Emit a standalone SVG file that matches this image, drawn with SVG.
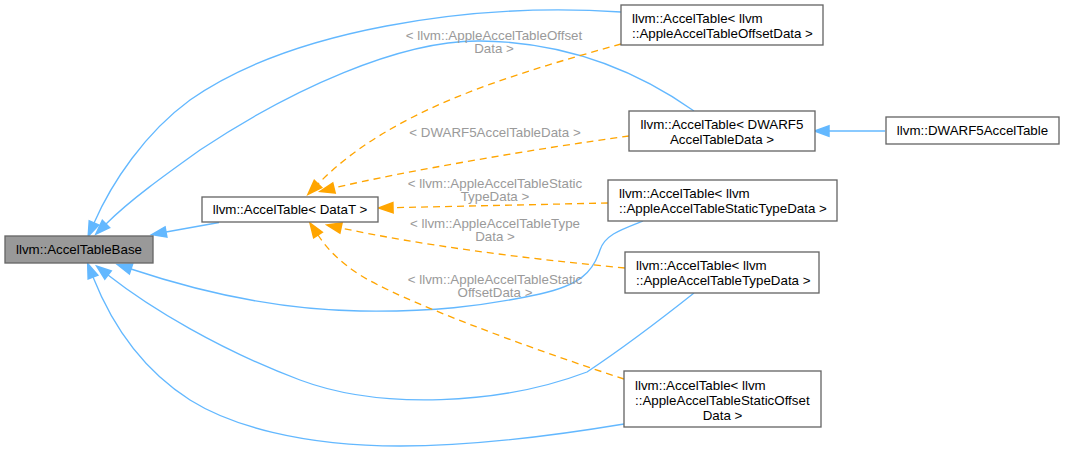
<svg xmlns="http://www.w3.org/2000/svg" width="1065" height="452" viewBox="0 0 1065 452">
<style>
text{font-family:"Liberation Sans",Arial,sans-serif;font-size:13.33px;fill:#000}
.c{text-anchor:middle}
.lbl{fill:#9a9a9a;text-anchor:middle}
.box{fill:#fff;stroke:#666;stroke-width:1.33}
.base{fill:#999;stroke:#666;stroke-width:1.33}
.bl{fill:none;stroke:#63b8ff;stroke-width:1.33}
.or{fill:none;stroke:#ffa500;stroke-width:1.33;stroke-dasharray:7,5}
</style>
<defs>
<marker id="ab" markerUnits="userSpaceOnUse" markerWidth="20" markerHeight="20" refX="0" refY="0" orient="auto" viewBox="-2 -8 18 16" overflow="visible">
<path d="M0,-4.7 L13,0 L0,4.7 z" fill="#63b8ff" stroke="#63b8ff" stroke-width="1.33" stroke-dasharray="none"/>
</marker>
<marker id="ao" markerUnits="userSpaceOnUse" markerWidth="20" markerHeight="20" refX="0" refY="0" orient="auto" viewBox="-2 -8 18 16" overflow="visible">
<path d="M0,-4.7 L13,0 L0,4.7 z" fill="#ffa500" stroke="#ffa500" stroke-width="1.33" stroke-dasharray="none"/>
</marker>
</defs>
<g id="connectors">
<path class="bl" marker-end="url(#ab)" d="M219,222.5 L166,232"/>
<path class="bl" marker-end="url(#ab)" d="M621,12 C470,2 290,30 190,100 C145,133 112,182 94,223"/>
<path class="bl" marker-end="url(#ab)" d="M694,111 C650,80 580,42 480,41 C400,40 290,90 200,150 C165,175 130,200 106,224"/>
<path class="bl" marker-end="url(#ab)" d="M643,221 C620,230 605,235 600,250 C593,272 580,285 540,294 C480,307 430,312 360,311 C280,310 200,292 131,269"/>
<path class="bl" marker-end="url(#ab)" d="M694,293 C660,320 620,350 587,372 C500,405 380,410 300,380 C220,350 150,308 108,275"/>
<path class="bl" marker-end="url(#ab)" d="M624,424 C540,438 470,446 400,446 C300,446 230,425 190,400 C140,368 110,320 93,277"/>
<path class="bl" marker-end="url(#ab)" d="M885,131 L829,131"/>
<path class="or" marker-end="url(#ao)" d="M621,44 C510,75 390,110 318,184"/>
<path class="or" marker-end="url(#ao)" d="M629,136 C540,148 400,172 334,188"/>
<path class="or" marker-end="url(#ao)" d="M608,203 L393,207.7"/>
<path class="or" marker-end="url(#ao)" d="M625,268 C520,258 420,245 341,228"/>
<path class="or" marker-end="url(#ao)" d="M624,379 C520,345 400,300 360,275 C340,262 328,250 318,235"/>
<text class="lbl" x="494" y="40">&lt; llvm::AppleAccelTableOffset</text>
<text class="lbl" x="494" y="53.3">Data &gt;</text>
<text class="lbl" x="495" y="137">&lt; DWARF5AccelTableData &gt;</text>
<text class="lbl" x="495" y="187.5">&lt; llvm::AppleAccelTableStatic</text>
<text class="lbl" x="495" y="200.8">TypeData &gt;</text>
<text class="lbl" x="495" y="227.5">&lt; llvm::AppleAccelTableType</text>
<text class="lbl" x="495" y="240.8">Data &gt;</text>
<text class="lbl" x="495" y="284">&lt; llvm::AppleAccelTableStatic</text>
<text class="lbl" x="495" y="297.3">OffsetData &gt;</text>
</g>
<g id="node-base">
<rect class="base" x="5" y="236" width="148" height="27"/>
<text class="c" x="79" y="254">llvm::AccelTableBase</text>
</g>
<g id="node-datat">
<rect class="box" x="202" y="197" width="176" height="25"/>
<text class="c" x="290" y="214">llvm::AccelTable&lt; DataT &gt;</text>
</g>
<g id="node-offset">
<rect class="box" x="621" y="5" width="202" height="40"/>
<text x="632" y="23">llvm::AccelTable&lt; llvm</text>
<text x="632" y="38">::AppleAccelTableOffsetData &gt;</text>
</g>
<g id="node-dwarf5">
<rect class="box" x="629" y="111" width="186" height="40"/>
<text class="c" x="722" y="128.5">llvm::AccelTable&lt; DWARF5</text>
<text class="c" x="722" y="143.5">AccelTableData &gt;</text>
</g>
<g id="node-dwarf5table">
<rect class="box" x="886" y="117" width="173" height="27"/>
<text class="c" x="972.5" y="135">llvm::DWARF5AccelTable</text>
</g>
<g id="node-statictype">
<rect class="box" x="608" y="180" width="229" height="41"/>
<text x="619" y="198">llvm::AccelTable&lt; llvm</text>
<text x="619" y="213">::AppleAccelTableStaticTypeData &gt;</text>
</g>
<g id="node-type">
<rect class="box" x="625" y="252" width="194" height="41"/>
<text x="636" y="270">llvm::AccelTable&lt; llvm</text>
<text x="636" y="285">::AppleAccelTableTypeData &gt;</text>
</g>
<g id="node-staticoffset">
<rect class="box" x="624" y="371" width="197" height="56"/>
<text x="635" y="390">llvm::AccelTable&lt; llvm</text>
<text x="635" y="405">::AppleAccelTableStaticOffset</text>
<text class="c" x="722.5" y="420">Data &gt;</text>
</g>
</svg>
